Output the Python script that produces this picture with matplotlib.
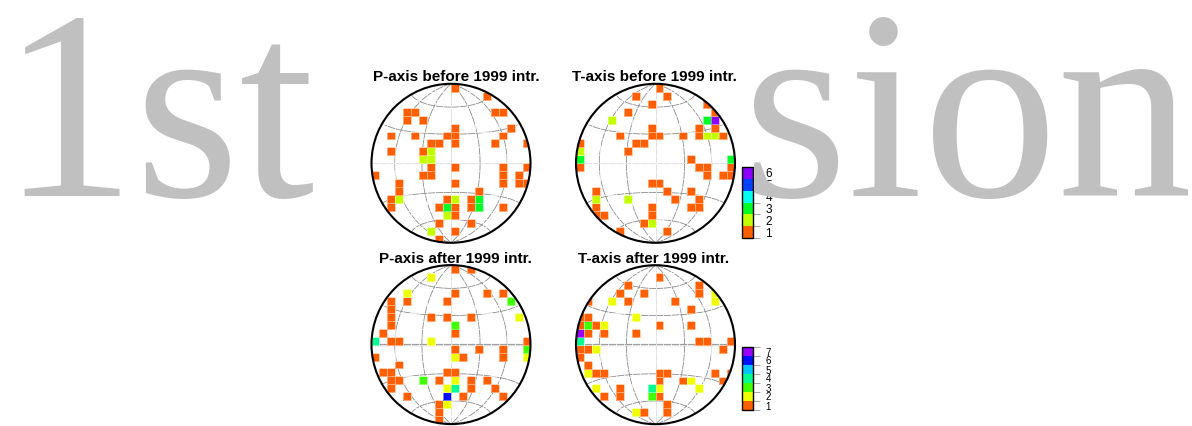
import matplotlib
matplotlib.use('Agg')
import matplotlib.pyplot as plt
import numpy as np
from matplotlib.colors import ListedColormap, BoundaryNorm
from matplotlib.patches import Circle

# counts on a 20 x 20 grid over the net: (column, row, count), column 0 = west, row 0 = north
p_before = [
    (10, 0, 1), (14, 1, 1),
    (4, 3, 1), (5, 3, 1), (15, 3, 1), (16, 3, 1),
    (4, 4, 1), (6, 4, 1),
    (10, 5, 1), (17, 5, 1),
    (2, 6, 1), (5, 6, 1), (9, 6, 1), (10, 6, 1), (16, 6, 1),
    (7, 7, 1), (8, 7, 1), (10, 7, 1), (15, 7, 1), (19, 7, 1),
    (2, 8, 1), (6, 8, 1), (7, 8, 2),
    (6, 9, 2), (7, 9, 2),
    (7, 10, 1), (10, 10, 1), (16, 10, 1), (19, 10, 1),
    (0, 11, 1), (6, 11, 1), (7, 11, 1), (16, 11, 1), (18, 11, 1),
    (3, 12, 1), (10, 12, 1), (16, 12, 1), (18, 12, 1), (19, 12, 1),
    (3, 13, 1), (13, 13, 1),
    (2, 14, 1), (3, 14, 2), (9, 14, 1), (10, 14, 2), (12, 14, 1), (13, 14, 3),
    (2, 15, 1), (8, 15, 1), (9, 15, 3), (10, 15, 1), (12, 15, 1), (13, 15, 3), (16, 15, 1),
    (9, 16, 2), (10, 16, 1),
    (8, 17, 1), (12, 17, 1),
    (7, 18, 2), (10, 18, 1),
    (8, 19, 1),
]

t_before = [
    (10, 0, 1),
    (7, 1, 1), (11, 1, 1),
    (9, 2, 1), (16, 2, 1),
    (6, 3, 1), (17, 3, 1),
    (4, 4, 2), (16, 4, 3), (17, 4, 6),
    (9, 5, 1), (15, 5, 1), (17, 5, 1),
    (5, 6, 1), (9, 6, 1), (10, 6, 1), (13, 6, 1), (15, 6, 1), (16, 6, 2), (17, 6, 2), (18, 6, 1),
    (0, 7, 1), (7, 7, 1), (8, 7, 1),
    (0, 8, 2), (6, 8, 1),
    (0, 9, 3), (14, 9, 1), (19, 9, 3),
    (0, 10, 1), (15, 10, 1), (16, 10, 1), (19, 10, 1),
    (16, 11, 1), (18, 11, 1), (19, 11, 1),
    (9, 12, 1), (10, 12, 1),
    (2, 13, 1), (11, 13, 1), (14, 13, 1),
    (2, 14, 2), (6, 14, 2), (12, 14, 1), (15, 14, 1),
    (2, 15, 1), (9, 15, 1), (14, 15, 1), (15, 15, 1),
    (2, 16, 1), (3, 16, 1), (9, 16, 1),
    (8, 17, 1), (9, 17, 2),
    (5, 18, 1), (11, 18, 1),
]

p_after = [
    (10, 0, 1), (12, 0, 1),
    (7, 1, 2),
    (4, 3, 2), (10, 3, 1), (14, 3, 1), (16, 3, 1),
    (2, 4, 1), (4, 4, 1), (9, 4, 1), (17, 4, 3),
    (2, 5, 1),
    (2, 6, 1), (7, 6, 1), (9, 6, 1), (12, 6, 1), (18, 6, 2),
    (2, 7, 1), (10, 7, 3),
    (1, 8, 1), (10, 8, 1),
    (0, 9, 4), (2, 9, 1), (3, 9, 1), (7, 9, 2), (19, 9, 1),
    (10, 10, 1), (13, 10, 1), (16, 10, 1), (19, 10, 3),
    (0, 11, 1), (10, 11, 2), (11, 11, 1), (16, 11, 1), (19, 11, 2),
    (3, 12, 1),
    (1, 13, 1), (2, 13, 1), (9, 13, 1), (10, 13, 1),
    (2, 14, 1), (3, 14, 1), (6, 14, 3), (8, 14, 1), (10, 14, 2), (12, 14, 1), (14, 14, 1),
    (2, 15, 1), (9, 15, 2), (10, 15, 4), (12, 15, 1), (15, 15, 1),
    (4, 16, 1), (9, 16, 6), (11, 16, 1), (16, 16, 1),
    (8, 17, 1), (9, 17, 2),
    (8, 18, 1),
    (8, 19, 1),
]

t_after = [
    (10, 1, 1),
    (6, 2, 1), (15, 2, 1),
    (5, 3, 1), (8, 3, 1), (15, 3, 1), (17, 3, 2),
    (1, 4, 1), (4, 4, 2), (6, 4, 1), (12, 4, 1), (17, 4, 2),
    (14, 5, 1),
    (0, 6, 1), (1, 6, 1), (7, 6, 2),
    (0, 7, 1), (1, 7, 3), (2, 7, 1), (3, 7, 2), (10, 7, 1), (14, 7, 1),
    (0, 8, 7), (1, 8, 1), (3, 8, 1), (7, 8, 1),
    (0, 9, 4), (15, 9, 1), (16, 9, 1), (19, 9, 1),
    (0, 10, 1), (1, 10, 1), (2, 10, 2), (18, 10, 1),
    (0, 11, 1),
    (1, 12, 1),
    (1, 13, 2), (2, 13, 1), (3, 13, 1), (10, 13, 1), (11, 13, 1), (17, 13, 1), (19, 13, 1),
    (10, 14, 1), (13, 14, 1), (14, 14, 2), (18, 14, 1),
    (2, 15, 2), (5, 15, 1), (9, 15, 4), (10, 15, 2), (15, 15, 2),
    (3, 16, 1), (5, 16, 1), (9, 16, 3), (10, 16, 1),
    (11, 17, 1),
    (7, 18, 2), (8, 18, 1), (11, 18, 1),
]

titles = ['P-axis before 1999 intr.', 'T-axis before 1999 intr.',
          'P-axis after 1999 intr.', 'T-axis after 1999 intr.']

colors_before = ['#ff5f00', '#c4ff00', '#00ff24', '#00ffee', '#0040ff', '#8c00ff']
colors_after = ['#ff5f00', '#eeff00', '#40ff00', '#00ff90', '#00c4ff', '#0010ff', '#9a00ff']

W, H = 1192, 426
R = 79.5


def px_axes(fig, left, top, width, height):
    return fig.add_axes([left / W, 1 - (top + height) / H, width / W, height / H])


def net_grid(ax, eq_lw):
    t = np.radians(np.linspace(-90, 90, 181))
    gkw = dict(color='#8c8c8c', lw=0.6, zorder=1)
    # meridians (great circles)
    for lon in [-60, -30, 30, 60]:
        lam = np.radians(lon)
        x = np.cos(t) * np.sin(lam)
        y = np.sin(t)
        z = np.cos(t) * np.cos(lam)
        ax.plot(x / np.sqrt(1 + z), y / np.sqrt(1 + z), **gkw)
    # parallels (small circles)
    for lat in [-60, -30, 30, 60]:
        phi = np.radians(lat)
        x = np.cos(phi) * np.sin(t)
        y = np.sin(phi) * np.ones_like(t)
        z = np.cos(phi) * np.cos(t)
        ax.plot(x / np.sqrt(1 + z), y / np.sqrt(1 + z), **gkw)
    ax.plot([0, 0], [-1, 1], **gkw)
    ax.plot([-1, 1], [0, 0], color='#a0a0a0' if eq_lw > 1 else '#8c8c8c', lw=eq_lw, zorder=1)


fig = plt.figure(figsize=(W / 100, H / 100), dpi=100)

# background watermark
wkw = dict(family='Liberation Serif', fontsize=194, color='#c0c0c0', va='baseline', zorder=0)
fig.text(0.0, 1 - 196.5 / H, '1st', ha='left', **wkw)
fig.text(1192 / W, 1 - 196.5 / H, 'sion', ha='right', **wkw)

centers = [(451, 163.3), (655.5, 163.3), (451, 344.6), (655.5, 344.7)]
title_pos = [(456, 80.7), (654.7, 80.7), (455.5, 263.3), (654, 263.3)]
panels = [p_before, t_before, p_after, t_after]
palettes = [colors_before, colors_before, colors_after, colors_after]
edges = np.linspace(-1, 1, 21)

meshes = []
for i, cells in enumerate(panels):
    cx, cy = centers[i]
    ax = px_axes(fig, cx - R, cy - R, 2 * R, 2 * R)
    ax.set_xlim(-1, 1)
    ax.set_ylim(-1, 1)
    ax.axis('off')
    net_grid(ax, 0.6 if i < 2 else 1.6)

    cols = palettes[i]
    grid = np.zeros((20, 20))
    for c, r, n in cells:
        grid[19 - r, c] = n
    cmap = ListedColormap(cols)
    norm = BoundaryNorm(np.arange(0.5, len(cols) + 1.5), len(cols))
    m = ax.pcolormesh(edges, edges, np.ma.masked_equal(grid, 0), cmap=cmap, norm=norm,
                      edgecolors=(1, 1, 1, 0.45), linewidth=0.6, zorder=2)
    circ = Circle((0, 0), 1, facecolor='none', edgecolor='black', lw=1.5, zorder=3, clip_on=False)
    ax.add_patch(circ)
    m.set_clip_path(Circle((0, 0), 1.0, transform=ax.transData))
    meshes.append(m)

    tx, ty = title_pos[i]
    fig.text(tx / W, 1 - ty / H, titles[i], ha='center', va='baseline', fontsize=11,
             fontweight='bold', family='Liberation Sans')

# colour scales
for m, (top, bottom), n, fs in [(meshes[1], (167, 238), 6, 8.5), (meshes[3], (347, 410), 7, 7)]:
    cax = px_axes(fig, 742, top, 11, bottom - top)
    cb = fig.colorbar(m, cax=cax, ticks=np.arange(1, n + 1))
    cb.outline.set_linewidth(1.0)
    cax.set_yticks(np.arange(0.5, n + 1.0), minor=True)
    cax.tick_params(which='major', length=0, pad=9, labelsize=fs)
    cax.tick_params(which='minor', length=5, width=0.6, color='#999999')
    for lab in cax.get_yticklabels():
        lab.set_family('Liberation Sans')

fig.savefig('out.png', dpi=100)
